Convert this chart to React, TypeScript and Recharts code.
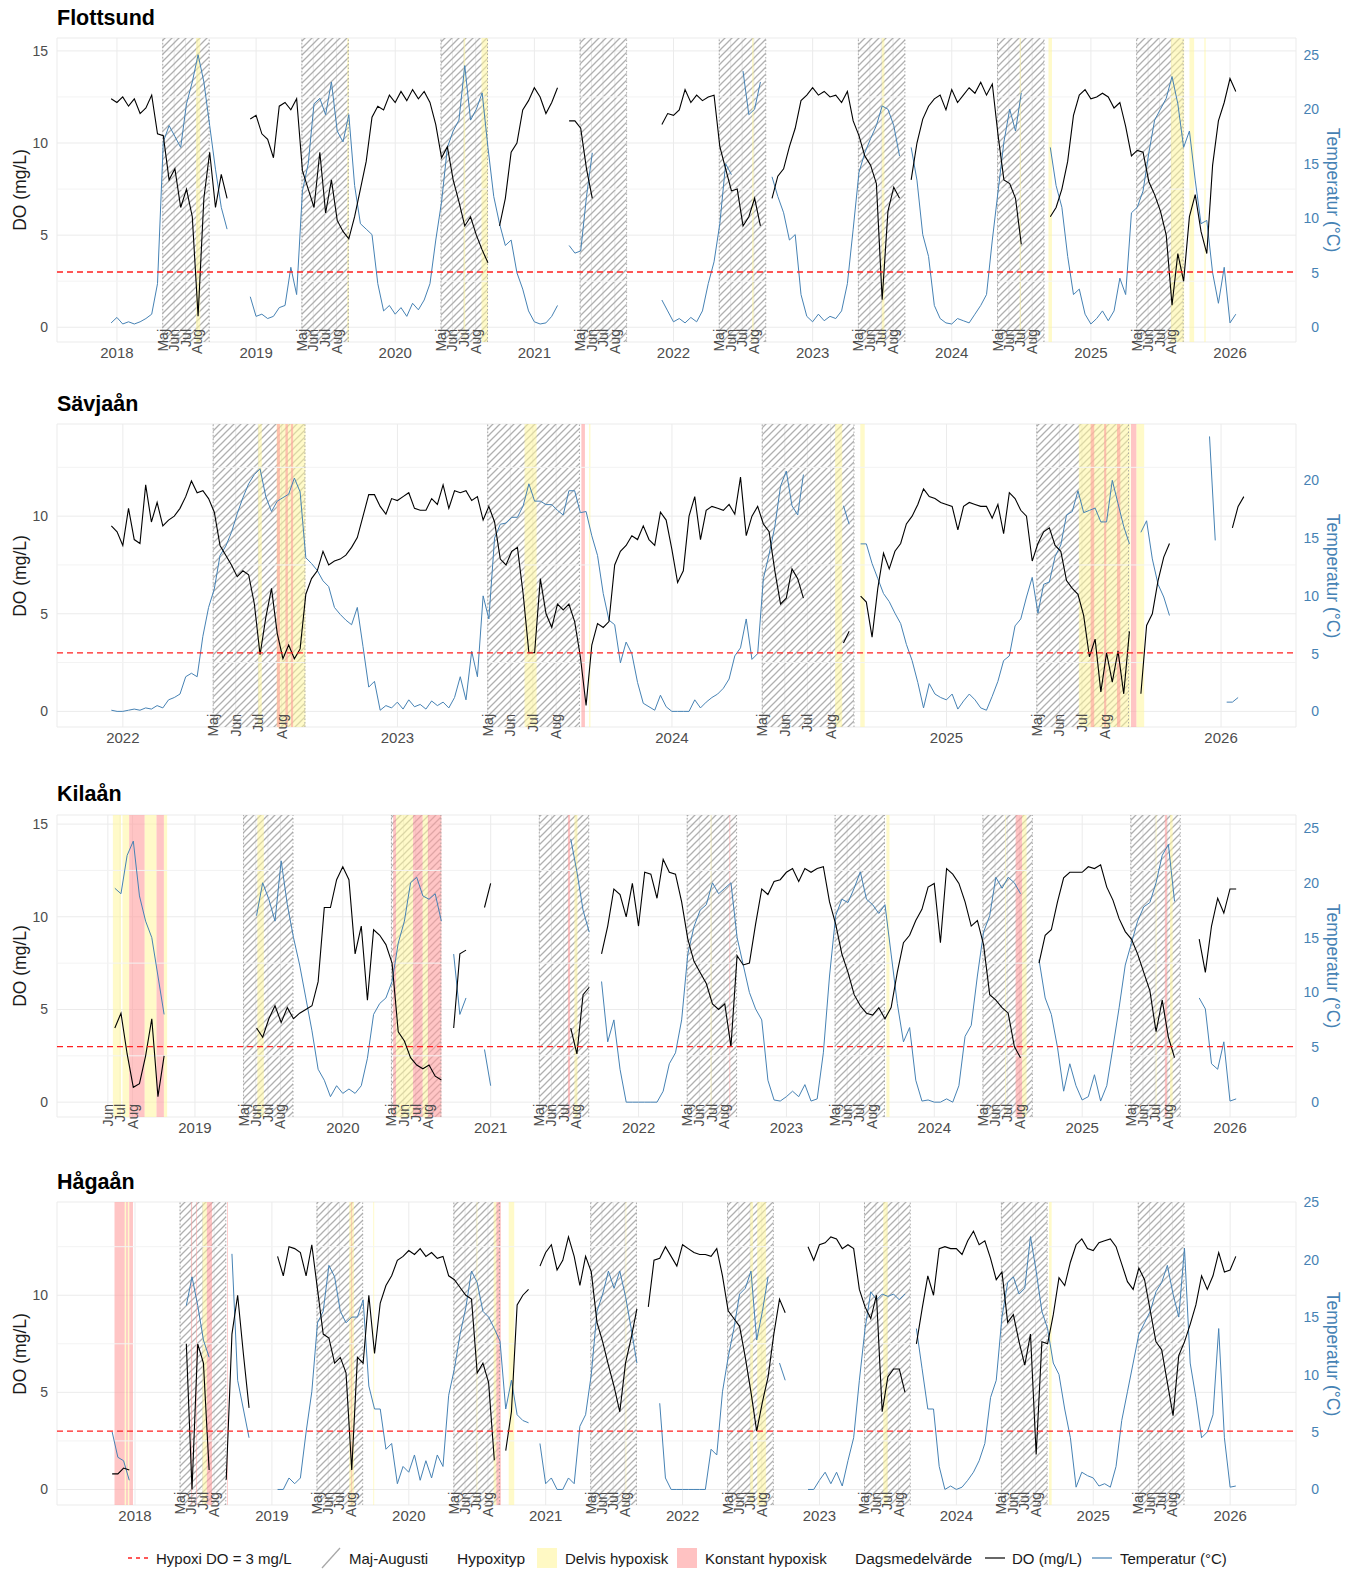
import React from 'react';
import { ComposedChart, Line, XAxis, YAxis, CartesianGrid, ReferenceArea, ReferenceLine } from 'recharts';

const FONT = '"Liberation Sans", Arial, Helvetica, sans-serif';
const STEEL = '#4682B4';
const GREY_TXT = '#4D4D4D';
const K = 1.69; // Temperatur = K * DO-axis units
const HALF_MONTH = 1 / 24;
const WEEK = 1 / 48;

const MONTH_NAMES = ['Maj', 'Jun', 'Jul', 'Aug'];
const MONTH_STARTS = [0.3288, 0.411, 0.4932, 0.5781];
const SUMMER_START = 0.3288;
const SUMMER_END = 0.663;

type Seg = [number, (number | null)[]];
type Band = [number, number, 'Y' | 'R'];

// ---------------- Flottsund (half-monthly samples) ----------------
const flotStart = 2017.958;
const flotLength = 195;
const flotDO: Seg[] = [
  [0, [12.4, 12.2, 12.5, 12.0, 12.4, 11.6, 11.9, 12.6, 10.5, 10.4, 8.0, 8.6, 6.5, 7.5, 6.0, 0.6, 7.0, 9.5, 6.5, 8.3, 7.0]],
  [24, [11.3, 11.5, 10.5, 10.2, 9.2, 12.0, 12.2, 11.8, 12.4, 8.5, 7.5, 6.5, 9.5, 6.2, 8.0, 5.8, 5.2, 4.8, 6.0, 7.5, 9.0, 11.4]],
  [46, [12.0, 11.8, 12.6, 12.2, 12.8, 12.3, 12.9, 12.4, 12.8, 12.2, 11.0, 9.2, 9.8, 8.0, 6.8, 5.5, 6.0, 5.0, 4.2, 3.5]],
  [67, [5.5, 7.0, 9.5, 10.0, 11.8, 12.3, 13.0, 12.5, 11.6, 12.2, 13.0]],
  [79, [11.2, 11.2, 10.8, 8.6, 7.0]],
  [86, [7.0]],
  [95, [11.0, 11.6, 11.5, 11.8, 12.9, 12.2, 12.6, 12.3, 12.5, 12.6, 9.8, 8.6, 7.4, 7.5, 5.5, 6.0, 7.0, 5.5]],
  [114, [7.0, 8.2, 8.6, 9.8, 10.8, 12.3, 12.6, 13.0, 12.6, 12.8, 12.5, 12.6, 12.2, 12.8]],
  [128, [11.2, 10.4, 9.3, 8.8, 7.8, 1.5, 6.3, 7.6, 7.0]],
  [138, [8.0, 10.0, 11.3, 12.0, 12.4, 12.6, 11.8, 12.9, 12.2, 12.6, 13.0, 12.7, 13.3, 12.6, 13.2, 10.4, 8.0, 7.8, 7.0, 4.5]],
  [162, [6.0, 6.5, 7.5, 9.0, 11.5, 12.6, 12.9, 12.4, 12.5, 12.7, 12.5, 11.9, 12.2, 10.9, 9.3, 9.6, 9.5, 7.9, 7.2, 6.3, 5.0, 1.2, 4.0, 2.5, 6.0, 7.2, 5.2, 4.0, 8.8, 11.2, 12.2, 13.5, 12.8]],
];
const flotTemp: Seg[] = [
  [0, [0.4, 0.9, 0.3, 0.5, 0.3, 0.5, 0.8, 1.2, 4.0, 17.0, 18.5, 17.5, 16.5, 20.5, 22.5, 25.0, 22.5, 18.5, 14.5, 11.0, 9.0]],
  [24, [2.8, 1.0, 1.2, 0.8, 1.0, 1.8, 2.0, 5.5, 3.0, 12.5, 15.0, 20.5, 21.0, 19.5, 22.5, 18.0, 17.0, 19.5, 13.0, 9.5, 9.0, 8.5]],
  [46, [4.0, 1.5, 2.0, 1.2, 1.8, 1.0, 2.2, 1.6, 2.5, 4.0, 8.0, 11.5, 16.5, 18.0, 19.0, 24.0, 19.0, 20.0, 21.5, 16.5, 12.0, 9.5, 7.5, 8.0, 5.0, 3.5, 1.5, 0.5, 0.3, 0.4, 1.0, 2.0]],
  [79, [7.5, 6.8, 7.0, 12.0, 16.0]],
  [86, [23.8]],
  [95, [2.5, 1.5, 0.5, 0.8, 0.4, 0.9, 0.5, 1.5, 4.0, 6.0, 9.5, 15.0, 14.0]],
  [109, [23.5, 19.5, 20.0, 22.5]],
  [114, [13.8, 12.0, 10.5, 8.0, 8.5, 3.0, 1.0, 0.5, 1.2, 0.6, 1.0, 0.8, 1.5, 4.0, 9.0, 14.2, 16.0, 17.3, 18.5, 20.3, 20.0, 18.5, 15.7]],
  [138, [16.5, 13.5, 8.5, 6.5, 2.0, 0.8, 0.4, 0.3, 0.8, 0.6, 0.4, 1.2, 2.0, 3.0, 8.0, 12.5, 17.0, 20.0, 18.0, 21.5]],
  [162, [16.5, 13.0, 11.0, 6.5, 3.0, 3.5, 1.2, 0.3, 0.8, 1.5, 0.6, 1.5, 4.5, 3.0, 10.5, 11.0, 12.5, 16.0, 19.0, 20.0, 21.0, 23.0, 20.5, 16.5, 18.0, 13.5, 9.5, 9.8, 5.0, 2.2, 5.5, 0.4, 1.2]],
];
const flotBands: Band[] = [
  [2018.568, 2018.598, 'Y'], [2019.655, 2019.667, 'Y'], [2020.492, 2020.503, 'Y'], [2020.62, 2020.667, 'Y'],
  [2022.565, 2022.576, 'Y'], [2023.497, 2023.516, 'Y'], [2024.488, 2024.497, 'Y'], [2024.695, 2024.72, 'Y'],
  [2025.575, 2025.67, 'Y'], [2025.708, 2025.742, 'Y'], [2025.815, 2025.825, 'Y'],
];
const flotYears = [2018, 2019, 2020, 2021, 2022, 2023, 2024, 2025, 2026];
const flotSummers = [2018, 2019, 2020, 2021, 2022, 2023, 2024, 2025];
const flotMonthLabels: [number, number[]][] = flotSummers.map((y) => [y, [0, 1, 2, 3]]);

// ---------------- Sävjaån (weekly samples) ----------------
const savStart = 2021.958;
const savLength = 199;
const savDO: Seg[] = [
  [0, [9.5, 9.2, 8.5, 10.4, 8.8, 8.6, 11.6, 9.7, 10.7, 9.5,
    9.8, 10.0, 10.4, 11.0, 11.8, 11.2, 11.3, 10.9, 10.2, 8.5,
    8.0, 7.5, 6.9, 7.2, 7.0, 5.5, 2.9, 4.8, 6.3, 4.0,
    2.7, 3.4, 2.7, 3.2, 6.0, 6.8, 7.2, 8.2, 7.5, 7.7,
    7.8, 8.0, 8.4, 8.9, 10.0, 11.1, 11.1, 10.5, 10.1, 10.9,
    10.8, 11.0, 11.2, 10.4, 10.3, 10.3, 10.9, 10.6, 11.6, 10.4,
    11.3, 11.2, 11.3, 10.8, 11.0, 9.8, 10.5, 9.7, 7.8, 7.5,
    8.2, 8.4, 6.0, 3.0, 3.0, 6.8, 5.0, 4.3, 5.5, 5.2,
    5.5, 4.6, 2.8, 0.3, 3.4, 4.5, 4.3, 4.6, 7.5, 8.2,
    8.5, 9.0, 8.8, 9.5, 8.8, 8.5, 10.2, 9.8, 8.3, 6.6,
    7.2, 10.0, 11.0, 8.8, 10.3, 10.5, 10.4, 10.3, 10.6, 10.1,
    12.0, 9.0, 10.0, 10.5, 9.6, 9.2, 7.2, 5.5, 5.8, 7.3, 6.8, 5.8]],
  [128, [3.5, 4.1]],
  [131, [5.9, 5.6, 3.8, 6.3, 8.1, 7.3, 8.2, 8.6, 9.6, 10.0,
    10.6, 11.4, 11.0, 10.9, 10.7, 10.6, 10.5, 9.3, 10.5, 10.7,
    10.6, 10.5, 10.5, 9.9, 10.6, 9.1, 11.2, 10.9, 10.3, 10.0,
    7.7, 8.6, 9.2, 9.4, 8.5, 8.2, 6.7, 6.3, 6.0, 4.9,
    2.8, 3.7, 1.0, 3.0, 1.5, 3.1, 0.9, 4.1]],
  [180, [0.9, 4.4, 5.0, 6.7, 7.9, 8.6]],
  [196, [9.4, 10.5, 11.0]],
];
const savTemp: Seg[] = [
  [0, [0.1, 0.0, 0.0, 0.1, 0.2, 0.1, 0.3, 0.2, 0.5, 0.3,
    1.0, 1.2, 1.5, 3.0, 3.3, 3.0, 6.5, 9.0, 10.6, 13.5,
    14.3, 15.5, 17.1, 18.5, 19.7, 20.5, 21.0, 18.6, 17.3, 18.2,
    18.5, 18.8, 20.2, 19.0, 13.3, 12.8, 12.2, 11.3, 10.8, 9.0,
    8.4, 7.9, 7.5, 9.0, 5.6, 2.1, 2.6, 0.1, 0.5, 0.3,
    0.8, 0.2, 1.0, 0.4, 0.6, 0.2, 0.9, 0.5, 0.8, 0.3,
    1.2, 3.0, 1.0, 5.2, 3.0, 10.0, 8.0, 15.0, 16.2, 16.3,
    16.8, 16.8, 17.8, 19.7, 18.2, 18.2, 17.9, 17.9, 17.4, 17.0,
    19.1, 19.1, 17.2, 17.3, 15.2, 13.5, 10.2, 7.9, 7.5, 4.2,
    6.0, 5.0, 2.5, 0.7, 0.4, 0.1, 1.4, 0.4, 0.0, 0.0,
    0.0, 0.0, 1.0, 0.3, 0.8, 1.2, 1.5, 2.0, 2.8, 4.8,
    5.5, 8.0, 4.5, 5.0, 11.5, 13.6, 16.0, 19.5, 20.8, 17.8, 17.0, 20.5]],
  [128, [17.8, 16.2]],
  [131, [14.5, 14.5, 12.8, 11.5, 10.2, 9.5, 8.5, 7.6, 5.8, 4.4,
    2.5, 0.3, 2.4, 1.5, 1.2, 1.0, 1.5, 0.2, 0.9, 1.5,
    1.0, 0.3, 0.1, 1.3, 2.6, 4.4, 4.8, 7.4, 8.0, 9.9,
    11.6, 8.5, 11.0, 11.2, 13.4, 14.4, 17.0, 17.3, 19.1, 17.2,
    17.4, 17.6, 16.4, 16.4, 20.0, 18.0, 16.0, 14.5]],
  [180, [15.5, 16.5, 13.2, 11.0, 9.9, 8.3]],
  [192, [23.8, 14.8]],
  [195, [0.8, 0.8, 1.2]],
];
const savBands: Band[] = [
  [2022.493, 2022.506, 'Y'], [2022.56, 2022.665, 'Y'], [2022.561, 2022.572, 'R'], [2022.592, 2022.601, 'R'], [2022.612, 2022.62, 'R'],
  [2023.463, 2023.507, 'Y'], [2023.67, 2023.683, 'R'], [2023.698, 2023.703, 'Y'],
  [2024.594, 2024.62, 'Y'], [2024.686, 2024.702, 'Y'],
  [2025.482, 2025.67, 'Y'], [2025.525, 2025.538, 'R'], [2025.574, 2025.582, 'R'], [2025.621, 2025.633, 'R'], [2025.672, 2025.692, 'R'], [2025.692, 2025.72, 'Y'],
];
const savYears = [2022, 2023, 2024, 2025, 2026];
const savSummers = [2022, 2023, 2024, 2025];
const savMonthLabels: [number, number[]][] = savSummers.map((y) => [y, [0, 1, 2, 3]]);

// ---------------- Kilaån (half-monthly samples) ----------------
const kilStart = 2018.458;
const kilLength = 183;
const kilDO: Seg[] = [
  [0, [4.0, 4.8, 2.6, 0.8, 1.0, 2.5, 4.5, 0.3, 2.5]],
  [23, [4.0, 3.5, 4.5, 5.2, 4.3, 5.1, 4.5, 4.8, 5.0, 5.2, 6.5, 10.5, 10.5, 12.0, 12.7, 12.0, 8.0, 9.5, 5.5, 9.3, 9.0, 8.5, 7.5, 3.8, 3.3, 2.4, 2.0, 1.8, 2.0, 1.4, 1.2]],
  [55, [4.0, 8.0, 8.2]],
  [60, [10.5, 11.8]],
  [74, [4.0, 2.6, 5.8, 6.2]],
  [79, [8.0, 9.5, 11.5, 11.2, 10.0, 11.8, 9.5, 12.4, 12.3, 11.0, 13.1, 12.4, 12.3, 10.8, 8.8, 7.6, 7.0, 6.4, 5.3, 5.0, 5.3, 3.0, 7.9, 7.4, 7.5, 9.6, 11.5, 11.2, 11.9, 12.0, 12.4, 12.6, 11.9, 12.6, 12.4, 12.6, 12.7, 10.8, 9.6, 8.0, 7.0, 5.8, 5.2, 4.8, 4.7, 5.1, 4.5, 5.1, 7.0, 8.6, 9.0, 9.8, 10.4, 11.6, 11.8, 8.6, 12.6, 12.3, 11.8, 10.8, 9.5, 9.8, 8.5, 5.8, 5.5, 5.1, 4.8, 3.0, 2.4]],
  [150, [7.5, 9.0, 9.3, 10.8, 12.1, 12.4, 12.4, 12.4, 12.7, 12.6, 12.8, 11.6, 10.9, 9.9, 9.2, 8.8, 8.0, 7.0, 6.0, 3.8, 5.5, 3.5, 2.4]],
  [176, [8.8, 7.0, 9.5, 11.0, 10.2, 11.5, 11.5]],
];
const kilTemp: Seg[] = [
  [0, [19.5, 19.0, 22.5, 23.8, 18.8, 16.5, 15.0, 11.5, 8.0]],
  [23, [17.0, 20.0, 18.5, 16.5, 22.0, 18.0, 15.0, 12.5, 9.5, 6.5, 3.0, 2.0, 0.5, 1.5, 0.8, 1.2, 0.8, 1.5, 4.0, 8.0, 9.0, 9.5, 11.0, 14.5, 16.5, 20.0, 20.5, 18.8, 18.5, 19.0, 16.5]],
  [55, [13.5, 8.0, 9.5]],
  [60, [4.8, 1.5]],
  [74, [24.0, 21.0, 17.5, 15.5]],
  [79, [11.0, 5.5, 7.5, 3.0, 0.0, 0.0, 0.0, 0.0, 0.0, 0.0, 1.0, 3.5, 4.5, 7.5, 13.5, 16.0, 17.5, 18.0, 20.0, 19.0, 19.5, 20.0, 15.0, 12.5, 10.0, 8.5, 7.5, 2.0, 0.2, 0.1, 0.5, 1.0, 0.5, 1.6, 0.1, 0.3, 4.5, 11.5, 17.0, 18.5, 18.2, 19.5, 21.0, 18.5, 18.0, 17.2, 18.0, 13.5, 9.0, 5.5, 6.8, 2.0, 0.1, 0.2, 0.0, 0.0, 0.3, 0.0, 1.5, 6.0, 7.0, 11.5, 15.5, 17.0, 20.5, 19.5, 20.5, 20.0, 19.0]],
  [150, [13.0, 9.5, 8.0, 5.0, 1.0, 3.5, 1.5, 0.2, 0.5, 2.5, 0.1, 1.5, 5.0, 8.6, 12.5, 14.5, 16.5, 17.8, 18.2, 20.0, 22.5, 23.5, 18.3]],
  [176, [9.5, 8.5, 3.5, 3.0, 5.5, 0.1, 0.3]],
];
const kilBands: Band[] = [
  [2018.445, 2018.5, 'Y'], [2018.51, 2018.555, 'Y'], [2018.555, 2018.66, 'R'], [2018.66, 2018.74, 'Y'], [2018.74, 2018.79, 'R'], [2018.79, 2018.812, 'Y'],
  [2019.422, 2019.466, 'Y'],
  [2020.34, 2020.36, 'R'], [2020.36, 2020.475, 'Y'], [2020.475, 2020.54, 'R'], [2020.54, 2020.575, 'Y'], [2020.575, 2020.667, 'R'],
  [2021.522, 2021.537, 'R'], [2021.566, 2021.587, 'Y'],
  [2022.487, 2022.493, 'Y'], [2022.614, 2022.62, 'R'],
  [2023.676, 2023.697, 'Y'],
  [2024.479, 2024.485, 'Y'], [2024.55, 2024.594, 'R'], [2024.594, 2024.624, 'Y'],
  [2025.497, 2025.503, 'Y'], [2025.559, 2025.574, 'R'], [2025.594, 2025.612, 'Y'],
];
const kilYears = [2019, 2020, 2021, 2022, 2023, 2024, 2025, 2026];
const kilSummers = [2019, 2020, 2021, 2022, 2023, 2024, 2025];
const kilMonthLabels: [number, number[]][] = [[2018, [1, 2, 3]], ...kilSummers.map((y) => [y, [0, 1, 2, 3]] as [number, number[]])];

// ---------------- Hågaån (half-monthly samples) ----------------
const hagStart = 2017.833;
const hagLength = 198;
const hagDO: Seg[] = [
  [0, [0.8, 0.8, 1.1, 1.0]],
  [13, [7.5, 0.0, 7.5, 6.5, 1.0]],
  [20, [0.5, 8.0, 10.0, 7.0, 4.2]],
  [29, [12.0, 11.0, 12.5, 12.4, 12.2, 11.0, 12.6, 10.3, 8.0, 7.8, 6.5, 6.8, 6.0, 1.0, 6.8, 6.5, 10.0, 7.0, 9.6, 10.5, 11.0, 11.8, 12.0, 12.3, 12.1, 12.4, 12.0, 12.2, 11.9, 12.0, 11.0, 10.8, 10.4, 10.0, 9.8, 6.0, 6.5, 5.5, 1.5]],
  [69, [2.0, 4.0, 9.5, 10.0, 10.3]],
  [75, [11.5, 12.2, 12.6, 11.3, 11.8, 13.0, 12.0, 10.5, 12.0, 11.2, 8.6, 7.6, 6.4, 5.3, 4.0, 6.5, 7.8, 9.3]],
  [94, [9.4, 11.8, 11.9, 12.5, 12.0, 11.5, 12.6, 12.4, 12.2, 12.1, 12.1, 12.0, 12.4, 11.0, 9.2, 8.8, 8.4, 6.8, 5.0, 3.0, 4.5, 5.8, 8.0, 9.8, 9.1]],
  [122, [12.5, 11.8, 12.6, 12.7, 13.0, 12.9, 12.4, 12.6, 12.4, 10.3, 9.4, 8.8, 10.0, 4.0, 5.8, 6.2, 6.2, 5.0]],
  [141, [7.5, 9.3, 11.0, 10.0, 12.4, 12.5, 12.4, 12.4, 12.1, 12.8, 13.3, 12.6, 12.8, 11.9, 10.8, 11.2, 8.6, 9.0, 7.6, 6.4, 8.0, 1.8, 7.6, 7.5, 9.0, 10.9, 10.5, 11.7, 12.6, 12.9, 12.4, 12.3, 12.7, 12.8, 12.9, 12.5, 11.6, 10.7, 10.3, 11.4, 10.8, 9.2, 7.6, 7.2, 5.5, 3.8, 6.9, 7.6, 8.5, 9.5, 11.0, 10.3, 11.0, 12.2, 11.2, 11.3, 12.0]],
];
const hagTemp: Seg[] = [
  [0, [5.0, 2.8, 2.5, 0.8]],
  [13, [16.0, 18.5, 16.0, 13.0, 11.5]],
  [21, [20.5, 9.5, 7.0, 4.5]],
  [29, [0.0, 0.0, 1.0, 0.5, 1.0, 5.0, 8.5, 14.5, 15.5, 19.5, 18.5, 15.5, 14.5, 15.0, 15.0, 16.5, 9.0, 7.0, 7.0, 3.5, 4.0, 0.5, 2.0, 1.5, 3.0, 0.8, 2.5, 1.0, 3.0, 2.0, 8.2, 10.5, 13.5, 15.8, 19.0, 18.0, 15.5, 15.0, 14.0, 12.9, 7.0, 9.5, 6.5, 6.0, 5.8]],
  [75, [4.0, 0.5, 1.0, 0.0, 0.0, 1.0, 0.5, 5.5, 6.5, 10.0, 15.5, 17.0, 19.0, 17.5, 19.0, 16.8, 14.0, 11.0]],
  [96, [7.5, 1.0, 0.0, 0.0, 0.0, 0.0, 0.0, 0.0, 0.0, 3.5, 3.0, 8.5, 11.5, 14.0, 17.0, 17.5, 19.0, 13.0, 15.5, 18.5]],
  [117, [11.0, 9.5]],
  [122, [0.0, 0.0, 0.8, 1.5, 0.5, 1.5, 0.3, 2.5, 4.5, 9.5, 14.0, 17.2, 16.5, 17.0, 16.8, 17.0, 16.5, 17.0]],
  [141, [14.0, 10.5, 7.0, 7.0, 2.0, 0.0, 0.3, 0.0, 0.2, 0.8, 1.5, 2.5, 4.0, 8.0, 9.5, 15.0, 18.0, 18.5, 17.0, 17.5, 22.0, 19.0, 15.5, 14.0, 11.0, 10.0, 7.0, 4.5, 0.2, 1.5, 1.2, 1.0, 0.3, 0.5, 0.2, 2.0, 6.0, 8.5, 11.0, 13.5, 14.5, 15.5, 17.2, 18.0, 19.5, 17.0, 15.0, 21.0, 11.0, 8.0, 4.5, 5.0, 6.5, 14.0, 4.5, 0.2, 0.3]],
];
const hagBands: Band[] = [
  [2017.85, 2017.925, 'R'], [2017.925, 2017.935, 'Y'], [2017.935, 2017.948, 'R'], [2017.948, 2017.958, 'Y'], [2017.958, 2017.985, 'R'],
  [2018.41, 2018.417, 'R'], [2018.447, 2018.453, 'R'], [2018.493, 2018.525, 'Y'], [2018.525, 2018.563, 'R'], [2018.672, 2018.678, 'R'],
  [2019.565, 2019.6, 'Y'], [2019.58, 2019.586, 'R'], [2019.74, 2019.747, 'Y'],
  [2020.495, 2020.501, 'Y'], [2020.62, 2020.64, 'Y'], [2020.64, 2020.672, 'R'], [2020.73, 2020.77, 'Y'],
  [2021.583, 2021.589, 'Y'],
  [2022.494, 2022.515, 'Y'], [2022.545, 2022.61, 'Y'],
  [2023.466, 2023.498, 'Y'],
  [2024.677, 2024.696, 'Y'],
];
const hagYears = [2018, 2019, 2020, 2021, 2022, 2023, 2024, 2025, 2026];
const hagSummers = [2018, 2019, 2020, 2021, 2022, 2023, 2024, 2025];
const hagMonthLabels: [number, number[]][] = hagSummers.map((y) => [y, [0, 1, 2, 3]]);

const DO_TICKS_15 = [0, 5, 10, 15];
const DO_TICKS_10 = [0, 5, 10];
const TEMP_TICKS_25 = [0, 5, 10, 15, 20, 25];
const TEMP_TICKS_20 = [0, 5, 10, 15, 20];

function buildData(start: number, step: number, n: number, doSegs: Seg[], tSegs: Seg[]) {
  const DO: (number | null)[] = new Array(n).fill(null);
  const T: (number | null)[] = new Array(n).fill(null);
  doSegs.forEach(([s, vals]) => vals.forEach((v, k) => { DO[s + k] = v; }));
  tSegs.forEach(([s, vals]) => vals.forEach((v, k) => { T[s + k] = v; }));
  return DO.map((v, i) => ({ t: start + i * step, DO: v, T: T[i] }));
}

type PanelCfg = {
  id: string; title: string; top: number; titleY: number; plotTop: number; plotBottom: number;
  xDomain: [number, number]; yDomain: [number, number];
  data: any[]; bands: Band[]; years: number[]; summers: number[]; monthLabels: [number, number[]][];
  doTicks: number[]; tempTicks: number[];
};

const PANELS: PanelCfg[] = [
  { id: 'p1', title: 'Flottsund', top: 0, titleY: 18, plotTop: 38, plotBottom: 342, xDomain: [2017.569, 2026.474], yDomain: [-0.8, 15.7],
    data: buildData(flotStart, HALF_MONTH, flotLength, flotDO, flotTemp), bands: flotBands, years: flotYears, summers: flotSummers, monthLabels: flotMonthLabels,
    doTicks: DO_TICKS_15, tempTicks: TEMP_TICKS_25 },
  { id: 'p2', title: 'Sävjaån', top: 385, titleY: 404, plotTop: 424, plotBottom: 727, xDomain: [2021.76, 2026.273], yDomain: [-0.8, 14.72],
    data: buildData(savStart, WEEK, savLength, savDO, savTemp), bands: savBands, years: savYears, summers: savSummers, monthLabels: savMonthLabels,
    doTicks: DO_TICKS_10, tempTicks: TEMP_TICKS_20 },
  { id: 'p3', title: 'Kilaån', top: 775, titleY: 794, plotTop: 815, plotBottom: 1117, xDomain: [2018.067, 2026.446], yDomain: [-0.8, 15.49],
    data: buildData(kilStart, HALF_MONTH, kilLength, kilDO, kilTemp), bands: kilBands, years: kilYears, summers: kilSummers, monthLabels: kilMonthLabels,
    doTicks: DO_TICKS_15, tempTicks: TEMP_TICKS_25 },
  { id: 'p4', title: 'Hågaån', top: 1163, titleY: 1182, plotTop: 1202, plotBottom: 1505, xDomain: [2017.43, 2026.481], yDomain: [-0.8, 14.8],
    data: buildData(hagStart, HALF_MONTH, hagLength, hagDO, hagTemp), bands: hagBands, years: hagYears, summers: hagSummers, monthLabels: hagMonthLabels,
    doTicks: DO_TICKS_10, tempTicks: TEMP_TICKS_25 },
];

const PLOT_LEFT = 57;
const PLOT_RIGHT = 1296;
const WIDTH = 1366;
const XAXIS_H = 30;

function Panel({ cfg }: { cfg: PanelCfg }) {
  const height = cfg.plotBottom - cfg.top + XAXIS_H;
  const monthTicks: { v: number; name: string }[] = [];
  cfg.monthLabels.forEach(([y, idx]) => idx.forEach((m) => monthTicks.push({ v: y + MONTH_STARTS[m], name: MONTH_NAMES[m] })));
  const ticks = [...cfg.years, ...monthTicks.map((m) => m.v)].sort((a, b) => a - b);
  const plotCenter = (cfg.plotTop + cfg.plotBottom) / 2 - cfg.top;
  const hatchId = `hatch-${cfg.id}`;

  const xTick = (props: any) => {
    const { x, y, payload } = props;
    const v = payload.value as number;
    const m = monthTicks.find((mt) => Math.abs(mt.v - v) < 1e-6);
    if (m) {
      return (
        <text transform={`translate(${x},${y - 13}) rotate(-90)`} textAnchor="end" dominantBaseline="central"
          fontSize={14} fill={GREY_TXT} fontFamily={FONT}>{m.name}</text>
      );
    }
    return (
      <text x={x} y={y + 10} textAnchor="middle" dominantBaseline="central" fontSize={15} fill={GREY_TXT} fontFamily={FONT}>
        {Math.round(v)}
      </text>
    );
  };
  const leftTick = (props: any) => (
    <text x={PLOT_LEFT - 9} y={props.y} textAnchor="end" dominantBaseline="central" fontSize={14} fill={GREY_TXT} fontFamily={FONT}>
      {props.payload.value}
    </text>
  );
  const rightTick = (props: any) => (
    <text x={PLOT_RIGHT + 23} y={props.y} textAnchor="end" dominantBaseline="central" fontSize={14} fill={STEEL} fontFamily={FONT}>
      {props.payload.value}
    </text>
  );

  const minor = [2.5, 7.5, 12.5].filter((v) => v < cfg.yDomain[1]);

  return (
    <div style={{ position: 'absolute', left: 0, top: cfg.top, width: WIDTH, height }}>
      <div style={{ position: 'absolute', left: PLOT_LEFT, top: cfg.titleY - cfg.top - 13, fontFamily: FONT, fontWeight: 700, fontSize: 21.5, lineHeight: '26px', color: '#000', whiteSpace: 'nowrap' }}>
        {cfg.title}
      </div>
      <div style={{ position: 'absolute', left: 20 - 100, top: plotCenter - 11, width: 200, height: 22, lineHeight: '22px', textAlign: 'center', transform: 'rotate(-90deg)', fontFamily: FONT, fontSize: 17.5, color: '#1a1a1a', whiteSpace: 'nowrap' }}>
        DO (mg/L)
      </div>
      <div style={{ position: 'absolute', left: 1333 - 100, top: plotCenter - 11, width: 200, height: 22, lineHeight: '22px', textAlign: 'center', transform: 'rotate(90deg)', fontFamily: FONT, fontSize: 17.5, color: STEEL, whiteSpace: 'nowrap' }}>
        Temperatur (°C)
      </div>
      <div style={{ position: 'absolute', left: 0, top: 0 }}>
        <ComposedChart width={WIDTH} height={height} data={cfg.data}
          margin={{ top: cfg.plotTop - cfg.top, right: 0, bottom: 0, left: 0 }}>
          <defs>
            <pattern id={hatchId} patternUnits="userSpaceOnUse" width={7} height={7}>
              <path d="M-1,1 l2,-2 M0,7 l7,-7 M6,8 l2,-2" stroke="#b0b0b0" strokeWidth={1.3} />
            </pattern>
          </defs>
          <CartesianGrid yAxisId="left" stroke="#EBEBEB" strokeWidth={1} />
          <XAxis type="number" dataKey="t" domain={cfg.xDomain} allowDataOverflow ticks={ticks} interval={0}
            tick={xTick} tickLine={false} axisLine={false} tickSize={0} tickMargin={0} height={XAXIS_H} />
          <YAxis yAxisId="left" type="number" domain={cfg.yDomain} allowDataOverflow ticks={cfg.doTicks} interval={0}
            tick={leftTick} tickLine={false} axisLine={false} tickSize={0} width={PLOT_LEFT} />
          <YAxis yAxisId="right" orientation="right" type="number" domain={[cfg.yDomain[0] * K, cfg.yDomain[1] * K]} allowDataOverflow
            ticks={cfg.tempTicks} interval={0} tick={rightTick} tickLine={false} axisLine={false} tickSize={0} width={WIDTH - PLOT_RIGHT} />
          {minor.map((v) => (
            <ReferenceLine key={`mn${v}`} yAxisId="left" y={v} stroke="#F3F3F3" strokeWidth={1} />
          ))}
          {cfg.summers.map((y) => (
            <ReferenceArea key={`h${y}`} yAxisId="left" x1={y + SUMMER_START} x2={y + SUMMER_END} fill={`url(#${hatchId})`} fillOpacity={1} stroke="none" />
          ))}
          {cfg.bands.map(([a, b, kind], i) => (
            <ReferenceArea key={`b${i}`} yAxisId="left" x1={a} x2={b} fill={kind === 'Y' ? '#FFF59D' : '#FF9E9E'} fillOpacity={kind === 'Y' ? 0.55 : 0.6} stroke="none" />
          ))}
          {cfg.summers.map((y) => (
            <ReferenceLine key={`e1${y}`} yAxisId="left" x={y + SUMMER_START} stroke="#9a9a9a" strokeWidth={0.8} strokeDasharray="1.5 2" />
          ))}
          {cfg.summers.map((y) => (
            <ReferenceLine key={`e2${y}`} yAxisId="left" x={y + SUMMER_END} stroke="#9a9a9a" strokeWidth={0.8} strokeDasharray="1.5 2" />
          ))}
          <Line yAxisId="right" type="linear" dataKey="T" stroke={STEEL} strokeWidth={1} dot={false} isAnimationActive={false} connectNulls={false} />
          <Line yAxisId="left" type="linear" dataKey="DO" stroke="#000000" strokeWidth={1.1} dot={false} isAnimationActive={false} connectNulls={false} />
          <ReferenceLine yAxisId="left" y={3} stroke="#FF2020" strokeWidth={1.3} strokeDasharray="6 4" />
        </ComposedChart>
      </div>
    </div>
  );
}

function Legend() {
  const cy = 23;
  const txt = { fontFamily: FONT, fontSize: 15, fill: '#1a1a1a', dominantBaseline: 'central' as const };
  return (
    <svg width={WIDTH} height={45} style={{ position: 'absolute', left: 0, top: 1535 }}>
      <line x1={128} x2={148} y1={cy} y2={cy} stroke="#FF2020" strokeWidth={1.5} strokeDasharray="4 4" />
      <text x={156} y={cy} {...txt}>Hypoxi DO = 3 mg/L</text>
      <line x1={322} y1={cy + 10} x2={340} y2={cy - 10} stroke="#a8a8a8" strokeWidth={1.3} />
      <text x={349} y={cy} {...txt}>Maj-Augusti</text>
      <text x={457} y={cy} {...txt} fontSize={15.5}>Hypoxityp</text>
      <rect x={537} y={cy - 10} width={20} height={20} fill="#FFF9C4" />
      <text x={565} y={cy} {...txt}>Delvis hypoxisk</text>
      <rect x={677} y={cy - 10} width={20} height={20} fill="#FFC2C2" />
      <text x={705} y={cy} {...txt}>Konstant hypoxisk</text>
      <text x={855} y={cy} {...txt} fontSize={15.5}>Dagsmedelvärde</text>
      <line x1={985} x2={1005} y1={cy} y2={cy} stroke="#000" strokeWidth={1.2} />
      <text x={1012} y={cy} {...txt}>DO (mg/L)</text>
      <line x1={1092} x2={1112} y1={cy} y2={cy} stroke={STEEL} strokeWidth={1.2} />
      <text x={1120} y={cy} {...txt}>Temperatur (°C)</text>
    </svg>
  );
}

export default function App() {
  return (
    <div style={{ position: 'absolute', left: 0, top: 0, width: WIDTH, height: 1580, background: '#fff', overflow: 'hidden' }}>
      {PANELS.map((p) => <Panel key={p.id} cfg={p} />)}
      <Legend />
    </div>
  );
}
